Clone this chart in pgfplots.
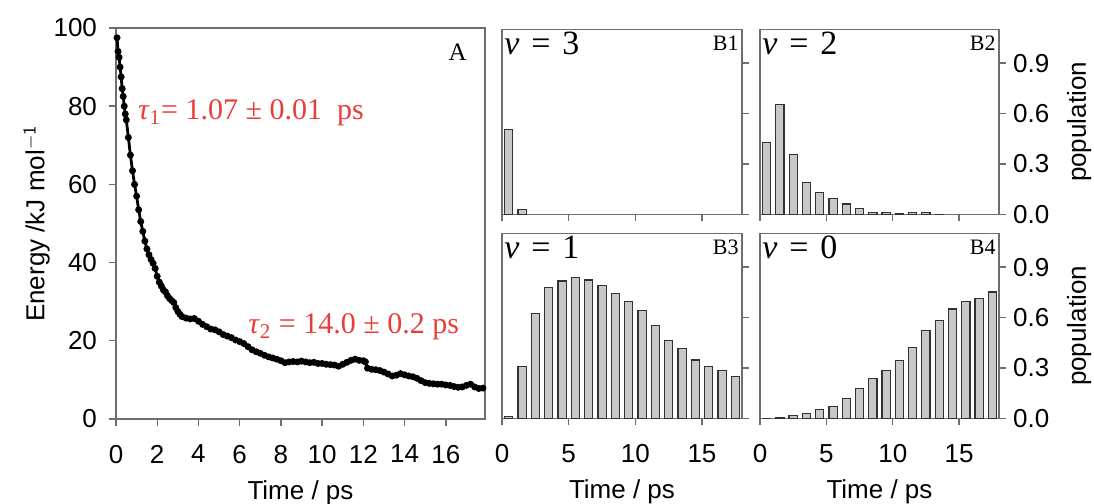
\documentclass[border=0pt]{standalone}
\usepackage{pgfplots}
\pgfplotsset{compat=1.18}
\usepackage{fontspec}
\setmainfont{Liberation Sans}
\newfontfamily\tnr{Liberation Serif}

\definecolor{axgray}{RGB}{110,110,110}
\definecolor{annred}{RGB}{232,62,58}
\definecolor{barfill}{RGB}{200,200,200}
\definecolor{baredge}{RGB}{50,50,50}

\pgfplotsset{
  base/.style={
    scale only axis,
    axis line style={axgray, line width=0.7pt},
    tick style={axgray, line width=0.7pt},
    major tick length=3.5pt,
    tick align=outside,
    /pgf/number format/assume math mode=true,
    ticklabel style={font=\fontsize{13}{13}\selectfont},
    xticklabel shift=6pt,
    label style={font=\fontsize{13}{13}\selectfont},
    xlabel shift=1.5pt,
  },
  pop/.style={
    base,
    width=120pt, height=92.5pt,
    xmin=0, xmax=18, ymin=0, ymax=1.1,
    xtick={0,5,10,15},
    ytick={0,0.3,0.6,0.9},
    yticklabels={0.0,0.3,0.6,0.9},
    xtick pos=bottom, ytick pos=right,
    ybar, bar width=4.1pt,
  },
  popright/.style={
    yticklabel pos=right,
    ylabel={population}, ylabel near ticks,
    ylabel style={font=\fontsize{13}{13}\selectfont},
    ylabel shift=2pt,
  },
  bars/.style={fill=barfill, draw=baredge, line width=0.6pt},
}
\newcommand{\vlab}[1]{{\tnr\fontsize{17}{17}\selectfont\itshape v\upshape\hspace{0.35em}=\hspace{0.35em}#1}}
\newcommand{\blab}[1]{{\tnr\fontsize{11}{11}\selectfont #1}}

\begin{document}
\begin{tikzpicture}
\useasboundingbox (0,0) rectangle (547pt,252pt);

% panel A: energy decay
\begin{axis}[base,
  at={(58pt,42.5pt)}, anchor=south west,
  width=184.5pt, height=195.5pt,
  xmin=0, xmax=17.9, ymin=0, ymax=100,
  xtick={0,2,...,16}, ytick={0,20,...,100},
  xtick pos=bottom, ytick pos=left,
  yticklabel shift=2.5pt, ylabel shift=-5pt,
  xlabel={Time / ps}, ylabel={Energy /kJ mol$^{\mathsf{-1}}$},
]
\addplot[black, line width=1.4pt, mark=*, mark size=1pt] coordinates {
(0.05,97.5) (0.1,94) (0.15,92.5) (0.2,90) (0.25,87.5) (0.3,84.5) (0.35,82.5)
(0.4,80) (0.45,78) (0.5,76.5) (0.6,72) (0.7,67.5) (0.8,63.5) (0.9,60)
(1.0,57) (1.1,53.5) (1.2,50.5) (1.3,48) (1.4,45.5) (1.5,43.5) (1.6,42)
(1.7,40.8) (1.8,39.8) (1.9,38.5) (2.0,36.5) (2.1,35) (2.2,34) (2.3,33)
(2.4,32.5) (2.5,31.5) (2.6,30.8) (2.7,30.3) (2.8,29.8) (2.9,28.5) (3.0,27.5)
(3.1,26.8) (3.2,26.2) (3.4,25.8) (3.6,25.6) (3.8,25.7) (4.0,25.0) (4.2,24.2)
(4.4,23.6) (4.6,23.0) (4.8,22.8) (5.0,22.3) (5.2,21.6) (5.4,21.2) (5.6,20.8)
(5.8,20.2) (6.0,19.8) (6.2,19.3) (6.4,18.5) (6.6,17.7) (6.8,17.2) (7.0,16.8)
(7.2,16.3) (7.4,15.9) (7.6,15.6) (7.8,15.3) (8.0,14.9) (8.2,14.4) (8.4,14.6)
(8.6,14.7) (8.8,14.6) (9.0,14.8) (9.2,14.6) (9.4,14.4) (9.6,14.5) (9.8,14.2)
(10.0,14.2) (10.2,14.0) (10.4,13.9) (10.6,13.8) (10.8,13.5) (11.0,14.0)
(11.2,14.5) (11.4,15.0) (11.6,15.3) (11.8,15.0) (12.0,14.9) (12.1,14.6)
(12.2,13.0) (12.4,12.7) (12.6,12.6) (12.8,12.4) (13.0,12.0) (13.2,11.5)
(13.4,11.0) (13.6,11.2) (13.8,11.6) (14.0,11.3) (14.2,11.0) (14.4,10.8)
(14.6,10.4) (14.8,9.8) (15.0,9.3) (15.2,9.1) (15.4,9.0) (15.6,8.9) (15.8,8.9)
(16.0,8.7) (16.2,8.6) (16.4,8.3) (16.6,8.1) (16.8,8.2) (17.0,8.6) (17.2,8.9)
(17.4,8.2) (17.6,7.8) (17.8,7.9)
};
\node[anchor=north east, inner sep=0pt, font=\tnr\fontsize{12.5}{12.5}\selectfont]
  at ([xshift=-9pt,yshift=-8pt]rel axis cs:1,1) {A};
\node[anchor=base west, inner sep=0pt, text=annred, font=\tnr\fontsize{15}{15}\selectfont]
  at (axis cs:1.05,76.5) {\textit{τ}\textsubscript{1}= 1.07 ± 0.01\ \ ps};
\node[anchor=base west, inner sep=0pt, text=annred, font=\tnr\fontsize{15}{15}\selectfont]
  at (axis cs:6.4,21.8) {\textit{τ}\textsubscript{2} = 14.0 ± 0.2 ps};
\end{axis}

% B1: v = 3
\begin{axis}[pop,
  at={(251pt,144.75pt)}, anchor=south west,
  xticklabels={}, yticklabels={},
]
\addplot[bars] coordinates {(0.5,0.505) (1.5,0.03)};
\node[anchor=north west, inner sep=1pt] at (rel axis cs:0,1) {\vlab{3}};
\node[anchor=north east, inner sep=1.5pt, yshift=-1.5pt] at (rel axis cs:1,1) {\blab{B1}};
\end{axis}

% B2: v = 2
\begin{axis}[pop, popright,
  at={(380pt,144.75pt)}, anchor=south west,
  width=119.5pt,
  xticklabels={},
]
\addplot[bars] coordinates {
(0.5,0.426) (1.5,0.653) (2.5,0.359) (3.5,0.188) (4.5,0.130) (5.5,0.095)
(6.5,0.063) (7.5,0.036) (8.5,0.014) (9.5,0.012) (10.5,0.008) (11.5,0.014)
(12.5,0.014) (13.5,0.002)};
\node[anchor=north west, inner sep=1pt] at (rel axis cs:0,1) {\vlab{2}};
\node[anchor=north east, inner sep=1.5pt, yshift=-1.5pt] at (rel axis cs:1,1) {\blab{B2}};
\end{axis}

% B3: v = 1
\begin{axis}[pop,
  at={(251pt,42.75pt)}, anchor=south west,
  yticklabels={}, xlabel={Time / ps},
]
\addplot[bars] coordinates {
(0.5,0.01) (1.5,0.308) (2.5,0.624) (3.5,0.781) (4.5,0.817) (5.5,0.836)
(6.5,0.823) (7.5,0.789) (8.5,0.741) (9.5,0.695) (10.5,0.642) (11.5,0.554)
(12.5,0.465) (13.5,0.415) (14.5,0.348) (15.5,0.308) (16.5,0.284) (17.5,0.248)};
\node[anchor=north west, inner sep=1pt] at (rel axis cs:0,1) {\vlab{1}};
\node[anchor=north east, inner sep=1.5pt, yshift=-1.5pt] at (rel axis cs:1,1) {\blab{B3}};
\end{axis}

% B4: v = 0
\begin{axis}[pop, popright,
  at={(380pt,42.75pt)}, anchor=south west,
  width=119.5pt,
  xlabel={Time / ps},
]
\addplot[bars] coordinates {
(0.5,0) (1.5,0.006) (2.5,0.016) (3.5,0.030) (4.5,0.053) (5.5,0.069)
(6.5,0.117) (7.5,0.178) (8.5,0.240) (9.5,0.287) (10.5,0.345) (11.5,0.424)
(12.5,0.521) (13.5,0.582) (14.5,0.651) (15.5,0.695) (16.5,0.713) (17.5,0.752)};
\node[anchor=north west, inner sep=1pt] at (rel axis cs:0,1) {\vlab{0}};
\node[anchor=north east, inner sep=1.5pt, yshift=-1.5pt] at (rel axis cs:1,1) {\blab{B4}};
\end{axis}
\end{tikzpicture}
\end{document}
